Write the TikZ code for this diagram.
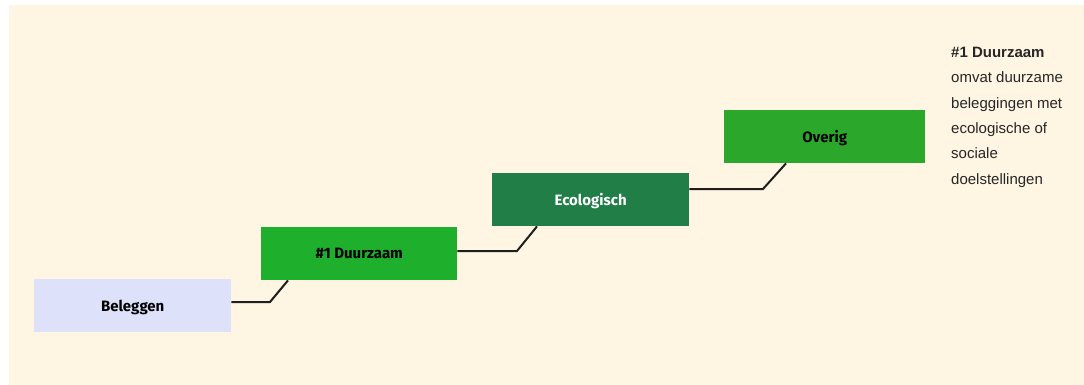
\documentclass[tikz,border=0pt]{standalone}
\usepackage{fontspec}
\setmainfont{Liberation Sans}
\newfontfamily\boxfont{Fira Sans}
\definecolor{bgcream}{HTML}{FEF5E3}
\definecolor{lav}{HTML}{DEE1FA}
\definecolor{gA}{HTML}{1EB02C}
\definecolor{gB}{HTML}{217E47}
\definecolor{gC}{HTML}{2BA82B}
\definecolor{lineC}{HTML}{1E1E1E}
\begin{document}
\begin{tikzpicture}[x=1pt,y=-1pt,
  stepbox/.style={draw=none,minimum width=197pt,minimum height=53pt,inner sep=0pt,
    font=\boxfont\bfseries\fontsize{15}{17}\selectfont,text=black,
    label={[font=\boxfont\bfseries\fontsize{15}{17}\selectfont]center:{}}},
  conn/.style={draw=lineC,line width=2pt}]
\useasboundingbox (0,0) rectangle (1084,385);
\fill[white] (0,0) rectangle (1084,385);
\fill[bgcream] (9,5) rectangle (1084,385);
\node[stepbox,fill=lav,anchor=north west,text depth=-2pt] (bel) at (34,279) {Beleggen};
\node[stepbox,fill=gA,anchor=north west,minimum width=196pt,text depth=-2pt] (duu) at (261,227) {\#1 Duurzaam};
\node[stepbox,fill=gB,anchor=north west,text=white,text depth=-2pt] (eco) at (492,173) {Ecologisch};
\node[stepbox,fill=gC,anchor=north west,minimum width=201pt,text depth=-2pt] (ove) at (724,110) {Overig};
\coordinate (k1) at (270,302);
\coordinate (k2) at (517,251);
\coordinate (k3) at (763,189);
\draw[conn] (bel.east |- k1) -- (k1) -- (duu.south west -| 288,0);
\draw[conn] (duu.east |- k2) -- (k2) -- (eco.south west -| 537,0);
\draw[conn] (eco.east |- k3) -- (k3) -- (ove.south west -| 786,0);
\node[anchor=north west,align=left,inner sep=0pt,font=\fontsize{15}{25.3}\selectfont,text=black!85] (desc) at (951,47)
  {\textbf{\#1 Duurzaam}\\omvat duurzame\\beleggingen met\\ecologische of\\sociale\\doelstellingen};
\end{tikzpicture}
\end{document}
